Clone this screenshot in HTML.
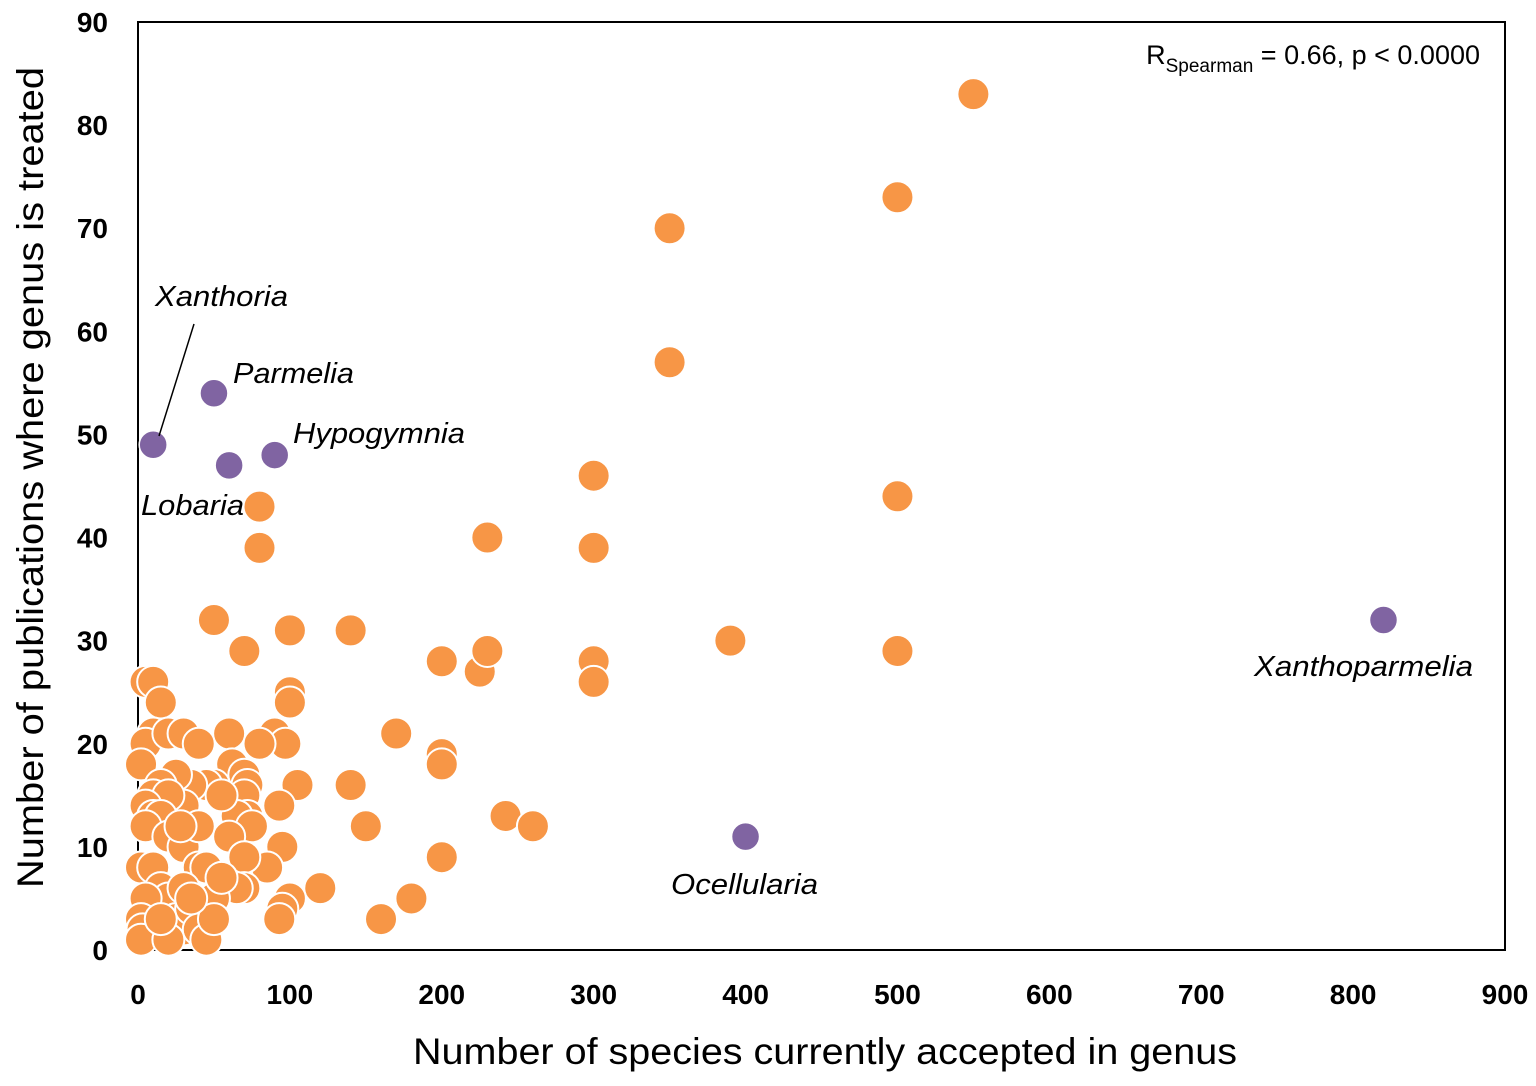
<!DOCTYPE html>
<html><head><meta charset="utf-8"><style>
html,body{margin:0;padding:0;background:#fff;}
svg{display:block;font-family:"Liberation Sans",sans-serif;}
</style></head><body>
<svg id="chart" width="1536" height="1086" viewBox="0 0 1536 1086" xmlns="http://www.w3.org/2000/svg">
<rect x="138" y="22" width="1367" height="928" fill="#fff" stroke="#000" stroke-width="2"/>
<g id="ticks"></g>
<g id="points"></g>
<g id="labels"></g>
<text x="413" y="1064" textLength="824" lengthAdjust="spacingAndGlyphs" font-size="37" fill="#000">Number of species currently accepted in genus</text>
<text transform="translate(43,888) rotate(-90)" textLength="821" lengthAdjust="spacingAndGlyphs" font-size="37" fill="#000">Number of publications where genus is treated</text>
<text x="1480" y="64" text-anchor="end" font-size="27" fill="#000">R<tspan font-size="19" dy="8">Spearman</tspan><tspan dy="-8"> = 0.66, p &lt; 0.0000</tspan></text>
<line x1="194" y1="324" x2="159" y2="436" stroke="#000" stroke-width="1.5"/>
</svg>
<script>
const xTicks=[0,100,200,300,400,500,600,700,800,900];
const yTicks=[0,10,20,30,40,50,60,70,80,90];
const orangeX=[550,500,350,350,300,500,80,80,230,300,50,100,140,70,390,500,200,225,230,300,300,5,10,100,100,15,170,200,200,140,105,150,242,260,200,120,180,160,100,95,93,95,93,90,97,60,80,10,5,2,20,30,40,62,70,72,70,72,65,75,60,85,70,70,65,50,45,55,35,25,30,15,10,20,5,10,15,5,20,30,40,50,45,55,2,10,15,20,5,2,3,2,25,30,35,40,45,50,20,15,30,35,40,28];
const orangeY=[83,73,70,57,46,44,43,39,40,39,32,31,31,29,30,29,28,27,29,28,26,26,26,25,24,24,21,19,18,16,16,12,13,12,9,6,5,3,5,4,3,10,14,21,20,21,20,21,20,18,21,21,20,18,17,16,15,13,13,12,11,8,9,6,6,16,16,15,16,17,14,16,15,15,14,13,13,12,11,10,8,5,8,7,8,8,6,5,5,3,2,1,3,2,4,2,1,3,1,3,6,5,12,12];
const purpleNames=["Xanthoria","Parmelia","Lobaria","Hypogymnia","Xanthoparmelia","Ocellularia"];
const purpleX=[10,50,60,90,820,400];
const purpleY=[49,54,47,48,32,11];
const NS="http://www.w3.org/2000/svg";
const X=v=>138+v*1367/900, Y=v=>950-v*928/90;
function mk(t,a,p){const e=document.createElementNS(NS,t);for(const k in a)e.setAttribute(k,a[k]);p.appendChild(e);return e;}
const tg=document.getElementById('ticks');
xTicks.forEach(v=>{const t=mk('text',{x:X(v),y:1004,'text-anchor':'middle','font-size':28,'font-weight':'bold'},tg);t.textContent=v;

});
yTicks.forEach(v=>{const t=mk('text',{x:108,y:Y(v)+10,'text-anchor':'end','font-size':28,'font-weight':'bold'},tg);t.textContent=v;

});
const pg=document.getElementById('points');
orangeX.forEach((v,i)=>{const c=mk('circle',{cx:X(v),cy:Y(orangeY[i]),r:16,fill:'#F79646',stroke:'#fff','stroke-width':2},pg);

});
purpleX.forEach((v,i)=>{const c=mk('circle',{cx:X(v),cy:Y(purpleY[i]),r:14,fill:'#8064A2',stroke:'#fff','stroke-width':1.5},pg);

});
const lg=document.getElementById('labels');
const lab=[["Xanthoria",155,306,133],["Parmelia",233,383,121],["Lobaria",141,515,103],["Hypogymnia",293,443,172],["Xanthoparmelia",1254,676,219],["Ocellularia",671,894,147]];
lab.forEach(l=>{const t=mk('text',{x:l[1],y:l[2],textLength:l[3],lengthAdjust:'spacingAndGlyphs','font-size':29,'font-style':'italic'},lg);t.textContent=l[0];

});
</script>
</body></html>
